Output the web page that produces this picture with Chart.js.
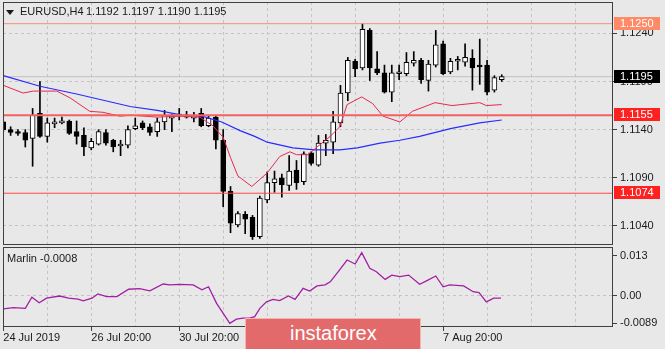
<!DOCTYPE html>
<html>
<head>
<meta charset="utf-8">
<script src="https://cdn.jsdelivr.net/npm/chart.js@4.4.1/dist/chart.umd.min.js"></script>
<style>
html,body{margin:0;padding:0;background:#e8e8e8;}
#wrap{position:relative;width:665px;height:349px;overflow:hidden;background:#e8e8e8;font-family:"Liberation Sans",Arial,sans-serif;color:#1a1a1a;}
canvas{position:absolute;left:0;}
#cMain{top:0;}
#cInd{top:246px;}
.txt{position:absolute;font-size:11px;line-height:13px;white-space:nowrap;}
#tri{position:absolute;left:6px;top:10px;width:0;height:0;border-left:4px solid transparent;border-right:4px solid transparent;border-top:5px solid #1a1a1a;}
#wm{position:absolute;left:245px;top:318px;width:176px;height:40px;background:#e26a6a;border:1px solid #f3b4b4;box-sizing:border-box;}
#wmt{position:absolute;left:290px;top:323px;font-size:20px;line-height:20px;color:#ffffff;white-space:nowrap;}
</style>
</head>
<body>
<div id="wrap">
<canvas id="cMain" width="665" height="246"></canvas>
<canvas id="cInd" width="665" height="103"></canvas>
<div id="tri"></div>
<div class="txt" id="sym" style="left:20px;top:5px;">EURUSD,H4</div>
<div class="txt" id="ohlc" style="left:86px;top:5px;"></div>
<div class="txt" id="mlab" style="left:7px;top:252px;"></div>
<div id="wm"></div>
<div id="wmt">instaforex</div>
</div>
<script>
// ---- data (EURUSD H4, bar index 0 = 24 Jul 2019 20:00) ----
const open=[1.1148,1.1140,1.1138,1.1137,1.1131,1.1157,1.1133,1.1146,1.1147,1.1149,
1.1138,1.1134,1.1121,1.1125,1.1137,1.1129,1.1123,1.1124,1.1141,1.1147,
1.1143,1.1138,1.1148,1.1152,1.1154,1.1155,1.1152,1.1157,1.1144,1.1153,
1.1129,1.1076,1.1041,1.1052,1.1049,1.1029,1.1067,1.1085,1.1090,1.1082,
1.1098,1.1086,1.1116,1.1103,1.1126,1.1127,1.1147,1.1178,1.1211,1.1204,
1.1243,1.1203,1.1199,1.1179,1.1198,1.1198,1.1209,1.1212,1.1191,1.1207,
1.1229,1.1200,1.1211,1.1210,1.1214,1.1206,1.1207,1.1181,1.1192];
const high=[1.1149,1.1143,1.1140,1.1140,1.1162,1.1190,1.1152,1.1152,1.1153,1.1150,
1.1149,1.1142,1.1131,1.1140,1.1140,1.1130,1.1129,1.1144,1.1152,1.1149,
1.1146,1.1152,1.1160,1.1156,1.1162,1.1159,1.1158,1.1162,1.1155,1.1154,
1.1140,1.1081,1.1055,1.1055,1.1051,1.1071,1.1096,1.1097,1.1094,1.1113,
1.1108,1.1117,1.1117,1.1134,1.1135,1.1159,1.1186,1.1215,1.1213,1.1250,
1.1245,1.1221,1.1207,1.1207,1.1207,1.1220,1.1221,1.1214,1.1212,1.1243,
1.1232,1.1214,1.1216,1.1229,1.1223,1.1234,1.1212,1.1196,1.1197];
const low=[1.1138,1.1134,1.1134,1.1122,1.1102,1.1132,1.1127,1.1142,1.1146,1.1135,
1.1125,1.1113,1.1119,1.1124,1.1124,1.1117,1.1113,1.1121,1.1140,1.1140,
1.1134,1.1133,1.1140,1.1138,1.1150,1.1152,1.1148,1.1143,1.1143,1.1120,
1.1060,1.1033,1.1039,1.1032,1.1026,1.1027,1.1064,1.1075,1.1070,1.1077,
1.1078,1.1083,1.1103,1.1102,1.1113,1.1115,1.1143,1.1170,1.1195,1.1202,
1.1191,1.1197,1.1178,1.1169,1.1192,1.1196,1.1206,1.1188,1.1180,1.1205,
1.1197,1.1198,1.1202,1.1206,1.1181,1.1187,1.1176,1.1179,1.1190];
const close=[1.1140,1.1137,1.1136,1.1129,1.1155,1.1133,1.1147,1.1148,1.1149,1.1136,
1.1133,1.1122,1.1128,1.1138,1.1126,1.1122,1.1123,1.1140,1.1144,1.1142,
1.1137,1.1148,1.1155,1.1153,1.1155,1.1153,1.1155,1.1144,1.1152,1.1129,
1.1076,1.1043,1.1053,1.1047,1.1029,1.1069,1.1085,1.1089,1.1083,1.1097,
1.1085,1.1115,1.1105,1.1126,1.1129,1.1148,1.1178,1.1212,1.1203,1.1244,
1.1204,1.1199,1.1179,1.1199,1.1199,1.1210,1.1212,1.1192,1.1208,1.1228,
1.1198,1.1211,1.1212,1.1215,1.1204,1.1205,1.1179,1.1194,1.1195];

// fast moving average (red)
const redX=[0,2.7,4.1,7.3,9.1,11.8,13.6,15.9,17.4,21,24.1,26.8,28.6,30,31,32,33.9,36,37.7,39.1,40,41.6,42.8,44.6,45.9,46.9,48.9,50.4,51.8,54.1,55.8,58.9,61.2,65,65.9,68];
const redY=[1.1186,1.1178,1.1180,1.1180,1.1173,1.1159,1.1158,1.1154,1.1155,1.1153,1.1154,1.1153,1.1144,1.1132,1.1111,1.1092,1.1081,1.1095,1.1112,1.1117,1.1114,1.1114,1.1122,1.1133,1.1143,1.1166,1.1174,1.1167,1.1154,1.1148,1.1159,1.1168,1.1165,1.1168,1.1165,1.1166];
// slow moving average (blue)
const blueX=[0,5,10,17.3,21,24.4,27.1,29.8,32.3,34.3,36,39.5,42.5,45.9,48.3,51.4,54.1,56.8,61,65,68];
const blueY=[1.1196,1.1185,1.1177,1.1164,1.1160,1.1155,1.1154,1.1148,1.1139,1.1133,1.1127,1.1121,1.1119,1.1119,1.1121,1.1126,1.1129,1.1133,1.1141,1.1147,1.1150];
// Marlin oscillator
const marlinX=[0,1.4,3,3.9,4.9,5.9,7.7,8.9,10.2,10.9,12.1,12.9,14.1,15.5,17.1,18.6,20,21.8,22.7,24.1,25.9,27.1,28,29.1,30.9,31.8,32.7,33.7,34.3,35,35.9,36.8,37.7,38.9,39.8,40.9,41.8,42.8,43.9,44.6,45.7,46.9,48,48.9,50,50.9,52.1,53,54.1,55.3,56.8,57.8,59,60,60.9,62.8,64.1,64.9,65.9,66.9,67.9];
const marlinY=[-0.0043,-0.0039,-0.0041,-0.0005,-0.0023,-0.0008,-0.0001,-0.0008,-0.0011,-0.0017,-0.0008,0.0006,-0.0003,-0.0003,0.0021,0.0023,0.0016,0.0038,0.0035,0.0037,0.0035,0.0019,0.0029,-0.0025,-0.0090,-0.0076,-0.0073,-0.0072,-0.0068,-0.0041,-0.0020,-0.0012,-0.0016,-0.0001,-0.0012,0.0024,0.0015,0.0032,0.0035,0.0045,0.0078,0.0116,0.0103,0.0140,0.0089,0.0078,0.0053,0.0067,0.0062,0.0067,0.0037,0.0049,0.0064,0.0029,0.0035,0.0032,0.0013,0.0010,-0.0020,-0.0008,-0.0008];

const priceTicks=[1.1040,1.1090,1.1140,1.1190,1.1240];
const levelValues=[1.1250,1.1155,1.1074];
const bidValue=1.1195;
const gridIdx=[0,6,12,18,24,30,36,42,48,54,60,66,72,78];
const xLabelIdx=[0,12,24,60];
const xLabelText=['24 Jul 2019','26 Jul 20:00','30 Jul 20:00','7 Aug 20:00'];
const marlinTicks=[0.013,0,-0.0089];
const marlinTickText=['0.013','0.00','-0.0089'];

// ---- styling ----
const X_MIN=-0.041, X_MAX=83.18;
const FONT={family:'"Liberation Sans", Arial, sans-serif', size:11};
const TXT='#1a1a1a', FRAME='#404040', GRID='#c4c4c4';

const last=open.length-1;
document.getElementById('ohlc').textContent=[open[last],high[last],low[last],close[last]].map(v=>v.toFixed(4)).join(' ');
document.getElementById('mlab').textContent='Marlin '+marlinY[marlinY.length-1].toFixed(4);

const idx=open.map((_,i)=>i);
const bodies=idx.map(i=>({x:i,y:[open[i],close[i]]}));
const wicks=idx.map(i=>({x:i,y:[low[i],high[i]]}));
const hline=v=>[{x:X_MIN,y:v},{x:X_MAX,y:v}];
const pts=(xs,ys)=>xs.map((x,i)=>({x,y:ys[i]}));
const lineDs=(data,color,w,order)=>({type:'line',data,borderColor:color,borderWidth:w,pointRadius:0,fill:false,tension:0,order});
const noPad=s=>{s.paddingTop=0;s.paddingBottom=0;s.paddingLeft=0;s.paddingRight=0;};

const framePlugin={id:'frame',afterDatasetsDraw(chart){
  const {ctx,chartArea:a}=chart;ctx.save();ctx.strokeStyle=FRAME;ctx.lineWidth=1;
  ctx.strokeRect(a.left+0.5,a.top+0.5,a.right-a.left-1,a.bottom-a.top-1);ctx.restore();}};

const boxes=[{v:levelValues[0],bg:'#ff8a68'},{v:bidValue,bg:'#000000'},{v:levelValues[1],bg:'#ff2020'},{v:levelValues[2],bg:'#ff2020'}];
const boxPlugin={id:'boxes',afterDraw(chart){
  const y=chart.scales.y, ctx=chart.ctx, a=chart.chartArea;
  ctx.save();
  boxes.forEach(b=>{
    const py=Math.round(y.getPixelForValue(b.v));
    ctx.fillStyle=b.bg;ctx.fillRect(a.right+1,py-7,46,13);
    ctx.fillStyle='#ffffff';ctx.font='11px "Liberation Sans", Arial, sans-serif';
    ctx.textBaseline='middle';ctx.textAlign='left';
    ctx.fillText(b.v.toFixed(4),a.right+7,py);
  });
  ctx.restore();}};

new Chart(document.getElementById('cMain'),{
  type:'bar',
  data:{datasets:[
    lineDs(hline(levelValues[0]),'#f59077',1,0),
    lineDs(hline(levelValues[1]),'#f26262',2,0),
    lineDs(hline(levelValues[2]),'#ff4646',1,0),
    lineDs(pts(redX,redY),'#e5294d',1,1),
    lineDs(pts(blueX,blueY),'#2b2bff',1.2,1),
    {type:'bar',data:bodies,backgroundColor:idx.map(i=>close[i]>=open[i]?'#ffffff':'#000000'),borderColor:'#000000',borderWidth:1,borderSkipped:false,barThickness:5,grouped:false,minBarLength:2,order:2},
    {type:'bar',data:wicks,backgroundColor:'#000000',borderWidth:0,barThickness:1,grouped:false,order:3},
    lineDs(hline(bidValue),'#c0c0c0',1,4)
  ]},
  options:{
    responsive:false,animation:false,events:[],
    layout:{padding:{top:2,left:3,right:0,bottom:1}},
    plugins:{legend:{display:false},tooltip:{enabled:false}},
    scales:{
      x:{type:'linear',min:X_MIN,max:X_MAX,offset:false,
        afterBuildTicks:s=>{s.ticks=gridIdx.map(v=>({value:v}));},
        afterFit:s=>{s.height=0;noPad(s);},
        ticks:{display:false},
        grid:{color:GRID,drawTicks:false,offset:false},
        border:{display:false,dash:[3,3]}},
      y:{type:'linear',position:'right',min:1.102027,max:1.127249,
        afterBuildTicks:s=>{s.ticks=priceTicks.map(v=>({value:v}));},
        afterFit:s=>{s.width=52;noPad(s);},
        ticks:{callback:v=>Number(v).toFixed(4),color:TXT,font:FONT,padding:3},
        grid:{color:GRID,tickColor:FRAME,tickLength:4},
        border:{display:false,dash:[3,3]}}
    }
  },
  plugins:[framePlugin,boxPlugin]
});

new Chart(document.getElementById('cInd'),{
  type:'line',
  data:{datasets:[lineDs(pts(marlinX,marlinY),'#a31fa3',1.3,0)]},
  options:{
    responsive:false,animation:false,events:[],
    layout:{padding:{top:1,left:3,right:0,bottom:0}},
    plugins:{legend:{display:false},tooltip:{enabled:false}},
    scales:{
      x:{type:'linear',min:X_MIN,max:X_MAX,offset:false,
        afterBuildTicks:s=>{s.ticks=gridIdx.map(v=>({value:v}));},
        afterFit:s=>{s.height=22;noPad(s);},
        ticks:{autoSkip:false,maxRotation:0,minRotation:0,align:'start',padding:0,color:TXT,font:FONT,
          callback:v=>{const k=xLabelIdx.indexOf(v);return k<0?'':xLabelText[k];}},
        grid:{color:GRID,tickLength:4,offset:false,
          tickColor:c=>(c.tick&&xLabelIdx.includes(c.tick.value))?FRAME:'rgba(0,0,0,0)'},
        border:{display:false,dash:[3,3]}},
      y:{type:'linear',position:'right',min:-0.010172,max:0.015827,
        afterBuildTicks:s=>{s.ticks=marlinTicks.map(v=>({value:v}));},
        afterFit:s=>{s.width=52;noPad(s);},
        ticks:{callback:v=>{const k=marlinTicks.indexOf(v);return k<0?'':marlinTickText[k];},color:TXT,font:FONT,padding:3},
        grid:{color:c=>(c.tick&&c.tick.value===0)?GRID:'rgba(0,0,0,0)',tickColor:FRAME,tickLength:4},
        border:{display:false,dash:[3,3]}}
    }
  },
  plugins:[framePlugin]
});
</script>
</body>
</html>
